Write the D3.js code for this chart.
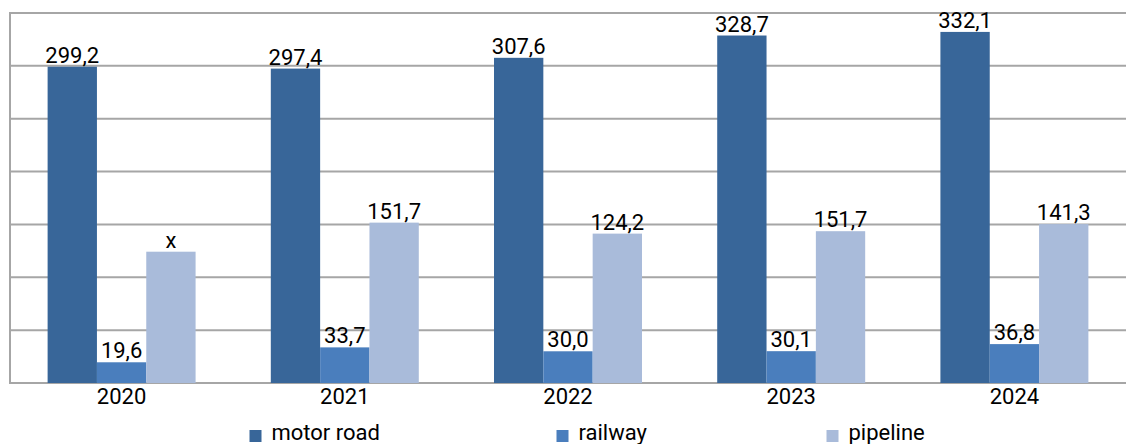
<!DOCTYPE html>
<html>
<head>
<meta charset="utf-8">
<script src="https://cdn.jsdelivr.net/npm/d3@7"></script>
<style>
  html, body { margin: 0; padding: 0; background: #fff; }
  svg { display: block; }
  text { font-family: Roboto, "Liberation Sans", sans-serif; fill: #000; }
</style>
</head>
<body>
<svg id="chart" width="1126" height="444"></svg>
<script>
const years = ["2020", "2021", "2022", "2023", "2024"];
const seriesNames = ["motor road", "railway", "pipeline"];
const motorRoad = [299.2, 297.4, 307.6, 328.7, 332.1];
const railway = [19.6, 33.7, 30.0, 30.1, 36.8];
// pipeline bar heights as drawn in the picture (labels differ from bar heights)
const pipeline = [124.2, 151.7, 141.3, 143.6, 150.3];
const motorRoadLabels = ["299,2", "297,4", "307,6", "328,7", "332,1"];
const railwayLabels = ["19,6", "33,7", "30,0", "30,1", "36,8"];
const pipelineLabels = ["x", "151,7", "124,2", "151,7", "141,3"];
const yTicks = [0, 50, 100, 150, 200, 250, 300, 350];
const colors = ["#386699", "#4a7ebd", "#a9bbda"];

const svg = d3.select("#chart");
const x0 = d3.scaleBand().domain(years).range([10, 1126]).paddingInner(0.337).paddingOuter(0.1685);
const x1 = d3.scaleBand().domain(seriesNames).range([0, x0.bandwidth()]);
const y = d3.scaleLinear().domain([0, 350]).range([383, 13]);

// gridlines
svg.append("g").selectAll("line").data(yTicks).join("line")
  .attr("x1", 10).attr("x2", 1126)
  .attr("y1", d => y(d)).attr("y2", d => y(d))
  .attr("stroke", "#a6a6a6").attr("stroke-width", 2);
// left axis
svg.append("line").attr("x1", 10).attr("x2", 10).attr("y1", y(350) - 1).attr("y2", y(0) + 1)
  .attr("stroke", "#a6a6a6").attr("stroke-width", 2);

const values = [motorRoad, railway, pipeline];
const labels = [motorRoadLabels, railwayLabels, pipelineLabels];
const rows = [];
years.forEach((yr, i) => {
  seriesNames.forEach((s, j) => {
    rows.push({ yr, s, j, v: values[j][i], label: labels[j][i] });
  });
});

svg.append("g").selectAll("rect").data(rows).join("rect")
  .attr("x", d => x0(d.yr) + x1(d.s))
  .attr("width", x1.bandwidth())
  .attr("y", d => y(d.v))
  .attr("height", d => y(0) - y(d.v))
  .attr("fill", d => colors[d.j]);

svg.append("g").selectAll("text").data(rows).join("text")
  .attr("x", d => x0(d.yr) + x1(d.s) + x1.bandwidth() / 2)
  .attr("y", d => y(d.v) - 4)
  .attr("text-anchor", "middle")
  .attr("font-size", 22)
  .text(d => d.label);

// x axis labels
svg.append("g").selectAll("text").data(years).join("text")
  .attr("x", d => x0(d) + x0.bandwidth() / 2)
  .attr("y", 404)
  .attr("text-anchor", "middle")
  .attr("font-size", 22)
  .text(d => d);

// legend
const legendX = [249.5, 556.5, 826.5];
const lg = svg.append("g").selectAll("g").data(seriesNames).join("g")
  .attr("transform", (d, i) => `translate(${legendX[i]},0)`);
lg.append("rect").attr("x", 0).attr("y", 430).attr("width", 12).attr("height", 12)
  .attr("fill", (d, i) => colors[i]);
lg.append("text").attr("x", 22).attr("y", 440).attr("font-size", 22).text(d => d);
</script>
</body>
</html>
